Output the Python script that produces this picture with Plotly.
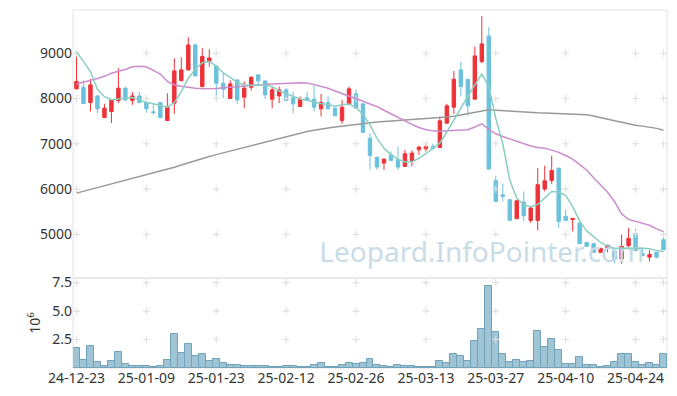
import plotly.graph_objects as go

dates = ["24-12-23","24-12-24","24-12-26","24-12-27","24-12-30","25-01-02","25-01-03","25-01-06","25-01-07","25-01-08",
         "25-01-09","25-01-10","25-01-13","25-01-14","25-01-15","25-01-16","25-01-17","25-01-20","25-01-21","25-01-22",
         "25-01-23","25-01-24","25-01-31","25-02-03","25-02-04","25-02-05","25-02-06","25-02-07","25-02-10","25-02-11",
         "25-02-12","25-02-13","25-02-14","25-02-17","25-02-18","25-02-19","25-02-20","25-02-21","25-02-24","25-02-25",
         "25-02-26","25-02-27","25-02-28","25-03-04","25-03-05","25-03-06","25-03-07","25-03-10","25-03-11","25-03-12",
         "25-03-13","25-03-14","25-03-17","25-03-18","25-03-19","25-03-20","25-03-21","25-03-24","25-03-25","25-03-26",
         "25-03-27","25-03-28","25-03-31","25-04-01","25-04-02","25-04-03","25-04-04","25-04-07","25-04-08","25-04-09",
         "25-04-10","25-04-11","25-04-14","25-04-15","25-04-16","25-04-17","25-04-18","25-04-21","25-04-22","25-04-23",
         "25-04-24","25-04-25","25-04-28","25-04-29","25-04-30"]

open_ = [8213,8249,7911,8058,7580,7713,7955,8227,7955,8058,
         7911,7705,7911,7514,7896,8396,8632,9183,8264,8815,
         8720,8338,8000,8411,8029,8249,8522,8389,7985,8058,
         8191,8014,7823,8014,7985,7772,7911,7786,7514,7867,
         8103,7882,7124,6705,6573,6757,6646,6500,6632,6867,
         6889,6941,6918,7456,7808,8632,8426,7985,8816,9382,
         6185,5874,5764,5344,5712,5307,5308,5999,6191,6463,
         5397,5325,5249,4823,4794,4602,4698,4640,4455,4750,
         5014,4573,4495,4602,4881]
high = [9058,8400,8426,8070,7882,7985,8668,8264,8146,8146,
        7955,7882,7911,8117,8889,8911,9352,9220,9110,9088,
        8720,8570,8400,8411,8375,8484,8522,8389,8250,8264,
        8227,8154,8044,8154,8279,8103,8044,7808,7970,8264,
        8206,7882,7235,6705,6661,6830,6941,6867,6852,6955,
        6977,7000,7602,7882,8610,8816,8426,9147,9823,9573,
        6294,6117,5764,5764,5947,5616,6463,6514,6735,6463,
        5544,5360,5249,4823,4794,4690,4772,4640,4992,5139,
        5120,4720,4650,4602,4950]
low = [8200,7880,7713,7676,7570,7455,7900,7933,7860,7900,
       7690,7639,7570,7500,7661,8374,8620,8499,8250,8705,
       8007,8007,7990,7882,7786,8176,8300,7985,7786,7896,
       7940,7676,7823,7955,7713,7603,7764,7617,7441,7867,
       7786,7250,6426,6426,6426,6620,6426,6500,6500,6757,
       6830,6867,6918,7441,7661,8044,7617,7985,8779,6441,
       5727,5727,5308,5344,5285,5249,5088,5948,6117,5139,
       5308,5066,4794,4735,4602,4602,4602,4360,4353,4720,
       4640,4529,4404,4470,4661]
close = [8374,7889,8301,7771,7786,7970,8227,7970,8058,7911,
         7779,7690,7580,7808,8610,8632,9183,8499,8926,8896,
         8338,8205,8323,7970,8228,8470,8389,8080,8191,8191,
         7955,7882,7985,7970,7808,7911,7772,7617,7808,8213,
         7786,7250,6742,6485,6661,6632,6485,6779,6794,6926,
         6941,6896,7507,7838,8426,8264,7838,8941,9206,6441,
         5727,5837,5308,5741,5411,5580,6095,6183,6411,5286,
         5308,5352,4794,4735,4602,4690,4755,4455,4730,4910,
         4640,4529,4555,4495,4661]

ma5 = [9036,8815,8595,8205,8040,7975,7990,8007,8021,7970,
       7911,7882,7838,7808,7911,8154,8448,8646,8790,8815,
       8720,8565,8465,8356,8300,8290,8300,8300,8260,8170,
       8110,8055,7990,7960,7915,7885,7865,7830,7860,7880,
       7800,7650,7420,7120,6900,6760,6660,6600,6600,6680,
       6780,6890,7020,7260,7530,7780,8050,8300,8540,8270,
       7560,7000,6200,5800,5650,5610,5660,5800,5945,5935,
       5860,5610,5290,5075,4950,4820,4740,4690,4685,4700,
       4700,4690,4680,4640,4620]
ma20 = [8320,8360,8390,8440,8490,8560,8600,8640,8700,8710,
        8700,8620,8540,8380,8300,8270,8240,8225,8215,8215,
        8220,8235,8250,8265,8280,8290,8300,8310,8320,8330,
        8340,8345,8350,8345,8310,8270,8225,8165,8110,8060,
        8010,7940,7880,7820,7740,7660,7580,7500,7430,7360,
        7310,7285,7275,7285,7295,7300,7310,7370,7440,7320,
        7220,7160,7110,7060,7000,6950,6920,6900,6860,6810,
        6740,6660,6540,6420,6250,6090,5930,5720,5450,5330,
        5290,5250,5200,5120,5060]
ma120 = [5910,5950,5990,6030,6070,6110,6150,6190,6230,6270,
         6310,6350,6390,6430,6480,6530,6580,6630,6680,6720,
         6760,6800,6840,6880,6920,6960,7000,7040,7080,7120,
         7160,7200,7240,7270,7300,7330,7350,7370,7390,7410,
         7430,7450,7465,7480,7490,7500,7510,7520,7530,7540,
         7550,7560,7575,7590,7610,7640,7670,7700,7730,7750,
         7740,7730,7715,7700,7695,7690,7685,7680,7675,7670,
         7665,7660,7650,7640,7615,7585,7550,7510,7475,7440,
         7410,7390,7370,7340,7300]

volume_m = [1.78,0.72,1.96,0.54,0.19,0.63,1.43,0.37,0.19,0.19,
            0.19,0.10,0.19,0.72,3.02,1.34,2.13,1.07,1.25,0.63,
            0.81,0.46,0.28,0.28,0.19,0.19,0.19,0.19,0.10,0.10,
            0.19,0.19,0.10,0.10,0.28,0.46,0.10,0.10,0.28,0.46,
            0.37,0.46,0.81,0.28,0.19,0.10,0.28,0.19,0.19,0.10,
            0.10,0.10,0.63,0.46,1.25,1.07,0.63,2.40,3.46,7.17,
            3.20,1.25,0.54,0.72,0.54,0.63,3.28,1.87,2.58,1.60,
            0.37,0.37,0.99,0.28,0.28,0.10,0.19,0.54,1.25,1.25,
            0.54,0.28,0.46,0.28,1.25]

price_ticks = [5000, 6000, 7000, 8000, 9000]
vol_ticks = [2.5, 5.0, 7.5]
vol_tick_text = ["2.5", "5.0", "7.5"]
date_ticks = ["24-12-23","25-01-09","25-01-23","25-02-12","25-02-26","25-03-13","25-03-27","25-04-10","25-04-24"]

price_range = [4035, 9955]
vol_range = [0, 7.9]
split = 0.2514

FONT = "Noto Sans, sans-serif"
TICKFONT = dict(family=FONT, size=14, color="#333333")
fig = go.Figure()

# grid crosses
grid_x = date_ticks + [dates[-1]]
gx, gy = [], []
for xv in grid_x:
    for yv in price_ticks:
        gx.append(xv); gy.append(yv)
fig.add_trace(go.Scatter(x=gx, y=gy, mode="markers", xaxis="x", yaxis="y",
                         marker=dict(symbol="cross-thin", size=5, line=dict(color="#e0e0e0", width=1.2)),
                         hoverinfo="skip", showlegend=False))
gx2, gy2 = [], []
for xv in grid_x:
    for yv in vol_ticks:
        gx2.append(xv); gy2.append(yv)
fig.add_trace(go.Scatter(x=gx2, y=gy2, mode="markers", xaxis="x", yaxis="y2",
                         marker=dict(symbol="cross-thin", size=5, line=dict(color="#e0e0e0", width=1.2)),
                         hoverinfo="skip", showlegend=False))

# watermark below data
wm_y = price_range[0] + 0.085 * (price_range[1] - price_range[0])
fig.add_trace(go.Scatter(x=[dates[58]], y=[wm_y], mode="text", text=["Leopard.InfoPointer.com"],
                         textfont=dict(family="Noto Sans, sans-serif", size=28, color="#c8dce8"),
                         textposition="middle center", cliponaxis=False,
                         hoverinfo="skip", showlegend=False))

fig.add_trace(go.Candlestick(x=dates, open=open_, high=high, low=low, close=close,
                             increasing=dict(line=dict(color="#ee3238", width=1), fillcolor="#ee3238"),
                             decreasing=dict(line=dict(color="#6cc1dc", width=1), fillcolor="#6cc1dc"),
                             whiskerwidth=0, showlegend=False, xaxis="x", yaxis="y"))

fig.add_trace(go.Scatter(x=dates, y=ma120, mode="lines", line=dict(color="#999999", width=1.5), showlegend=False))
fig.add_trace(go.Scatter(x=dates, y=ma20, mode="lines", line=dict(color="#cc8ccb", width=1.5), showlegend=False))
fig.add_trace(go.Scatter(x=dates, y=ma5, mode="lines", line=dict(color="#8ccfc2", width=1.5), showlegend=False))

fig.add_trace(go.Bar(x=dates, y=volume_m, xaxis="x", yaxis="y2",
                     marker=dict(color="rgba(135,182,203,0.8)", line=dict(color="#72a2ba", width=1)),
                     showlegend=False))

fig.update_layout(
    width=677, height=396,
    margin=dict(l=73, r=10, t=10, b=28, autoexpand=False),
    paper_bgcolor="white", plot_bgcolor="white",
    font=dict(family=FONT, size=14, color="#333333"),
    bargap=0, boxgap=0.3,
    xaxis=dict(type="category", categoryorder="array", categoryarray=dates,
               range=[-0.5, len(dates) - 0.5], anchor="y2", automargin=False,
               tickmode="array", tickvals=date_ticks, ticktext=date_ticks,
               showgrid=False, zeroline=False, showline=False, ticks="",
               rangeslider=dict(visible=False), tickfont=TICKFONT),
    yaxis=dict(domain=[split, 1], range=price_range, tickvals=price_ticks, automargin=False,
               showgrid=False, zeroline=False, showline=False, ticks="",
               tickfont=TICKFONT),
    yaxis2=dict(domain=[0, split], range=vol_range, tickvals=vol_ticks, ticktext=vol_tick_text,
                automargin=False,
                showgrid=False, zeroline=False, showline=False, ticks="",
                title=dict(text="10<sup>6</sup>", standoff=8, font=TICKFONT),
                tickfont=TICKFONT),
    shapes=[
        dict(type="rect", xref="paper", yref="paper", x0=0, x1=1, y0=0, y1=1,
             line=dict(color="#e2e2e2", width=1), layer="below"),
        dict(type="line", xref="paper", yref="paper", x0=0, x1=1, y0=split, y1=split,
             line=dict(color="#e2e2e2", width=1.5), layer="below"),
    ],
)

fig.write_html("out.html", config={"displayModeBar": False},
               post_script="document.body.style.margin='0';")
